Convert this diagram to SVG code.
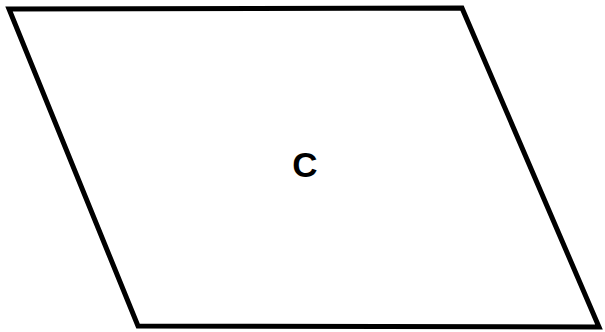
<svg xmlns="http://www.w3.org/2000/svg" width="605" height="332" viewBox="0 0 605 332">
<style>
.shape{fill:#fff;stroke:#000;stroke-width:5;stroke-linejoin:miter}
.lbl{font-family:"Liberation Sans",Arial,sans-serif;font-size:35px;font-weight:bold;fill:#000;text-anchor:middle}
</style>
<rect width="605" height="332" fill="#fff"/>
<g id="nodeC">
<polygon class="shape" points="9,9 462,8 599,327 138,326"/>
<text class="lbl" x="305" y="177">C</text>
</g>
</svg>
